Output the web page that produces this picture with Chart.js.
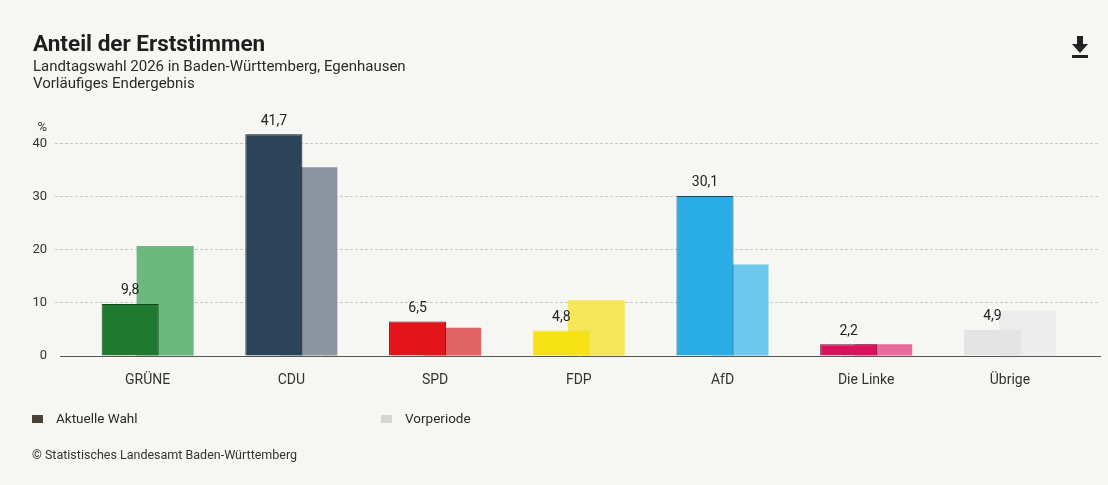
<!DOCTYPE html>
<html lang="de">
<head>
<meta charset="utf-8">
<title>Anteil der Erststimmen</title>
<script src="https://cdn.jsdelivr.net/npm/chart.js@4.4.1/dist/chart.umd.min.js"></script>
<style>
  html, body { margin: 0; padding: 0; background: #f6f6f3; }
  body { width: 1108px; height: 485px; position: relative; overflow: hidden; font-family: Roboto, "Open Sans", sans-serif; color: #222; }
  #wrap { position: absolute; left: 0; top: 0; width: 1108px; height: 485px; }
  .title { position: absolute; left: 33px; top: 30px; font-size: 22.5px; font-weight: bold; color: #1e1e1e; }
  .sub { position: absolute; left: 33px; font-size: 15px; color: #2a2a2a; }
  .legend { position: absolute; top: 410px; font-size: 13.5px; color: #2a2a2a; }
  .legend span.box { display: inline-block; width: 11px; height: 8px; margin-right: 13px; vertical-align: 0px; }
  .source { position: absolute; left: 32px; top: 447px; font-size: 12.5px; color: #333; }
  .dl { position: absolute; left: 1071px; top: 36px; }
</style>
</head>
<body>
<div id="wrap"><canvas id="chart"></canvas></div>
<div class="title">Anteil der Erststimmen</div>
<div class="sub" style="top:57px">Landtagswahl 2026 in Baden-Württemberg, Egenhausen</div>
<div class="sub" style="top:74px">Vorläufiges Endergebnis</div>
<div class="legend" style="left:32px"><span class="box" style="background:#4b4337"></span>Aktuelle Wahl</div>
<div class="legend" style="left:381px"><span class="box" style="background:#d4d4d4"></span>Vorperiode</div>
<div class="source">© Statistisches Landesamt Baden-Württemberg</div>
<svg class="dl" width="18" height="23" viewBox="0 0 18 23">
  <path d="M6 0h6v8h5l-8 9-8-9h5z" fill="#222"/>
  <rect x="1" y="19" width="16" height="3" fill="#222"/>
</svg>
<script>
const categories = ['GRÜNE', 'CDU', 'SPD', 'FDP', 'AfD', 'Die Linke', 'Übrige'];
const current = [9.8, 41.7, 6.5, 4.8, 30.1, 2.2, 4.9];
const previous = [20.7, 35.5, 5.3, 10.5, 17.2, 2.2, 8.5];
const yTicks = [0, 10, 20, 30, 40];

const currentColors = ['#1f7a30', '#2b4459', '#e3151a', '#f6e214', '#28ade4', '#da115d', '#e3e3e3'];
const currentBorders = ['#0f4a1a', '#111', '#8a0d10', '#f6e214', '#124a66', '#6a0a2e', '#e3e3e3'];
const previousColors = ['#6db87d', '#8c959f', '#e06464', '#f6e65a', '#6ec7ec', '#e76b9c', '#ececec'];

const valueLabels = {
  id: 'valueLabels',
  afterDatasetsDraw(chart) {
    const c = chart.ctx;
    const meta = chart.getDatasetMeta(0);
    c.save();
    c.font = '14px Roboto, sans-serif';
    c.fillStyle = '#222';
    c.textAlign = 'center';
    c.textBaseline = 'bottom';
    meta.data.forEach((bar, i) => {
      c.fillText(current[i].toFixed(1).replace('.', ','), bar.x, bar.y - 6);
    });
    const y = chart.scales.y;
    c.font = '13px Roboto, sans-serif';
    c.fillStyle = '#333';
    c.textAlign = 'right';
    c.textBaseline = 'middle';
    c.fillText('%', y.right - 13, y.getPixelForValue(40) - 16);
    c.restore();
  }
};

new Chart(document.getElementById('chart'), {
  type: 'bar',
  data: {
    datasets: [
      {
        label: 'Aktuelle Wahl',
        data: current.map((v, i) => ({ x: i, y: v })),
        backgroundColor: currentColors,
        borderColor: currentBorders,
        borderWidth: 1
      },
      {
        label: 'Vorperiode',
        data: previous.map((v, i) => ({ x: i, y: v })),
        backgroundColor: previousColors,
        borderWidth: 0
      }
    ]
  },
  options: {
    responsive: true,
    maintainAspectRatio: false,
    animation: false,
    categoryPercentage: 0.487,
    barPercentage: 1.63,
    layout: { padding: { left: 0, right: 8, top: 122, bottom: 89 } },
    plugins: { legend: { display: false }, tooltip: { enabled: false } },
    scales: {
      x: {
        type: 'linear',
        offset: false,
        min: -0.61,
        max: 6.627,
        afterBuildTicks: s => { s.ticks = categories.map((_, i) => ({ value: i })); },
        afterFit: s => { s.height = 40; },
        grid: { display: false, offset: false },
        border: { display: true, color: '#555', width: 1 },
        ticks: {
          autoSkip: false,
          maxRotation: 0,
          padding: 8,
          color: '#333',
          font: { family: 'Roboto', size: 14 },
          callback: v => categories[v]
        }
      },
      y: {
        min: 0,
        max: 44,
        afterBuildTicks: s => { s.ticks = yTicks.map(v => ({ value: v })); },
        afterFit: s => { s.width = 60; },
        border: { display: false, dash: [3, 2] },
        grid: {
          color: ctx => ctx.tick && ctx.tick.value === 0 ? 'rgba(0,0,0,0)' : '#c8c8c8',
          tickColor: ctx => ctx.tick && ctx.tick.value === 0 ? 'rgba(0,0,0,0)' : '#c8c8c8',
          tickLength: 5,
          tickBorderDash: [3, 2]
        },
        ticks: {
          padding: 8,
          color: '#333',
          font: { family: 'Roboto', size: 13 }
        }
      }
    }
  },
  plugins: [valueLabels]
});
</script>
</body>
</html>
